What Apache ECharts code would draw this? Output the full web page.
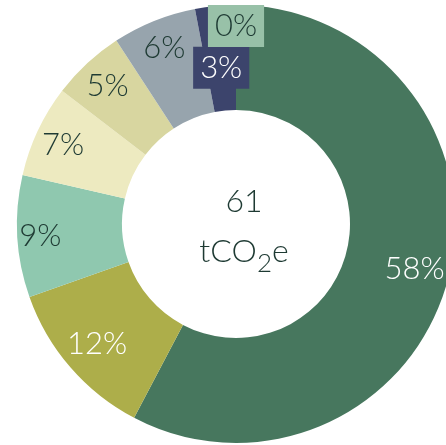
<!DOCTYPE html>
<html>
<head>
<meta charset="utf-8">
<script src="https://cdn.jsdelivr.net/npm/echarts@6/dist/echarts.min.js"></script>
<style>
html,body{margin:0;padding:0;background:#fff;}
#chart{width:446px;height:445px;}
</style>
</head>
<body>
<div id="chart"></div>
<script>
// Data (clockwise from 12 o'clock), shares in percent of total emissions
const categories = ['Segment A', 'Segment B', 'Segment C', 'Segment D', 'Segment E', 'Segment F', 'Segment G', 'Segment H'];
const shares = [57.7, 11.9, 9.0, 6.8, 5.4, 6.2, 3.0, 0];
const totalValue = '61';
const totalUnit = ['tCO', '2', 'e'];

// Styles
const sliceColors = ['#47775E', '#ADAE4A', '#8FC8AF', '#EDEAC0', '#D8D6A0', '#97A4AD', '#3C446C', '#98C1A8'];
const labelColors = ['#ffffff', '#ffffff', '#1E3A33', '#1E3A33', '#1E3A33', '#1E3A33', '#ffffff', '#1E3A33'];
const labelBoxed = [false, false, false, false, false, false, true, true];
const labelOffsets = [[-5, 0], [4, -4], [-7, 1], [-2, 1], [0, 1], [-1, -1], [3, 32], [0, -9]];

const FONT = 'Lato, "Noto Sans", sans-serif';
const TEXT_DARK = '#1E3A33';
const center = [236, 224];

const ringData = categories.map((n, i) => ({
  name: n, value: shares[i], itemStyle: { color: sliceColors[i] }
}));
const labelData = categories.map((n, i) => ({
  name: n, value: shares[i],
  label: Object.assign({
    color: labelColors[i],
    offset: labelOffsets[i]
  }, labelBoxed[i] ? { backgroundColor: sliceColors[i], padding: [6, 7, 5, 7] } : {})
}));

const chart = echarts.init(document.getElementById('chart'), null, { renderer: 'canvas' });
chart.setOption({
  animation: false,
  series: [
    {
      type: 'pie',
      center: center,
      radius: [114, 219],
      startAngle: 90,
      clockwise: true,
      silent: true,
      label: { show: false },
      labelLine: { show: false },
      data: ringData
    },
    {
      type: 'pie',
      center: center,
      radius: [150, 222],
      startAngle: 90,
      clockwise: true,
      silent: true,
      avoidLabelOverlap: false,
      labelLayout: { hideOverlap: false },
      z: 3,
      itemStyle: { color: 'rgba(0,0,0,0)' },
      labelLine: { show: false },
      label: {
        show: true,
        position: 'inside',
        fontFamily: FONT,
        fontSize: 31,
        fontWeight: 300,
        lineHeight: 31,
        formatter: p => Math.round(p.value) + '%'
      },
      data: labelData
    }
  ],
  graphic: [{
    type: 'text',
    x: 244,
    y: 227,
    z: 10,
    style: {
      text: '{n|' + totalValue + '}\n{u|' + totalUnit[0] + '}{s|' + totalUnit[1] + '}{u|' + totalUnit[2] + '}',
      align: 'center',
      verticalAlign: 'middle',
      fill: TEXT_DARK,
      fontFamily: FONT,
      rich: {
        n: { fontSize: 32, fontWeight: 300, lineHeight: 50, fontFamily: FONT, fill: TEXT_DARK },
        u: { fontSize: 32, fontWeight: 300, lineHeight: 50, fontFamily: FONT, fill: TEXT_DARK },
        s: { fontSize: 26, fontWeight: 300, lineHeight: 25, verticalAlign: 'bottom', fontFamily: FONT, fill: TEXT_DARK }
      }
    }
  }]
});
</script>
</body>
</html>
